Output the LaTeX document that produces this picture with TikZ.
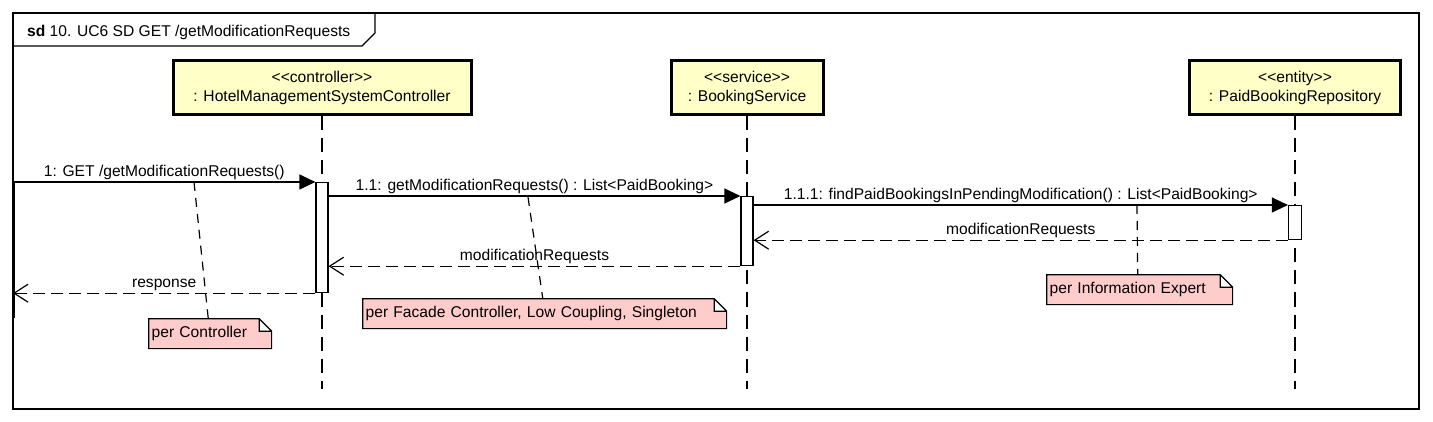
\documentclass[tikz,border=0pt]{standalone}
\usepackage{fontspec}
\setmainfont{Liberation Sans}
\usetikzlibrary{arrows.meta}

\definecolor{headfill}{RGB}{255,255,200}
\definecolor{notefill}{RGB}{255,204,204}
\newcommand{\umlfont}{\fontsize{15.6}{19}\selectfont}

\tikzset{
  lifehead/.style={draw, line width=3pt, fill=headfill, minimum height=54pt, align=center, font=\umlfont, inner sep=0pt},
  lifeline/.style={line width=1.2pt, dash pattern=on 14pt off 8pt},
  activation/.style={draw, fill=white, line width=1.2pt, minimum width=12pt, inner sep=0pt, anchor=north},
  call/.style={line width=1.2pt, -{Triangle[length=16pt,width=15pt]}},
  reply/.style={line width=1.2pt, dash pattern=on 12pt off 6pt, -{Straight Barb[length=14pt,width=18pt]}},
  notelink/.style={line width=1.2pt, dash pattern=on 9pt off 7pt},
  msg/.style={font=\umlfont, above, inner sep=1.5pt},
  note/.style={anchor=north west, font=\umlfont, align=left, inner xsep=3.5pt, minimum height=31pt,
    path picture={
      \draw[fill=notefill, line width=1.2pt]
        ([shift={(.6pt,-.6pt)}]path picture bounding box.north west)
        -- ([shift={(-13pt,-.6pt)}]path picture bounding box.north east)
        -- ([shift={(-.6pt,-13pt)}]path picture bounding box.north east)
        -- ([shift={(-.6pt,.6pt)}]path picture bounding box.south east)
        -- ([shift={(.6pt,.6pt)}]path picture bounding box.south west) -- cycle
        ([shift={(-13pt,-.6pt)}]path picture bounding box.north east)
        |- ([shift={(-.6pt,-13pt)}]path picture bounding box.north east);
    }},
}

\begin{document}
\begin{tikzpicture}[x=1pt,y=-1pt]
\useasboundingbox (0,0) rectangle (1433,422);

% frame
\draw[line width=1.2pt] (13,13) rectangle (1419,409);
\draw[line width=1.2pt] (13,46) -- (362,46) -- (375,33) -- (375,13);
\node[anchor=west, font=\umlfont, inner sep=0pt] (title) at (27,32) {\textbf{sd} 10. UC6 SD GET /getModificationRequests};

% lifelines
\node[lifehead, minimum width=298pt] (HMSController) at (322,88) {<{}<controller>{}>\\: HotelManagementSystemController};
\node[lifehead, minimum width=152pt] (BookingService) at (747,88) {<{}<service>{}>\\: BookingService};
\node[lifehead, minimum width=211pt] (PaidBookingRepo) at (1295,88) {<{}<entity>{}>\\: PaidBookingRepository};

\coordinate (ctrlEnd) at (322,389);
\coordinate (svcEnd) at (747,389);
\coordinate (repoEnd) at (1295,389);
\draw[lifeline] (HMSController.south) -- (ctrlEnd);
\draw[lifeline] (BookingService.south) -- (svcEnd);
\draw[lifeline] (PaidBookingRepo.south) -- (repoEnd);

\node[activation, minimum height=110pt] (ctrlAct) at (322,182) {};
\node[activation, minimum height=69pt] (svcAct) at (747,196) {};
\node[activation, minimum height=34pt, minimum width=13pt] (repoAct) at (1295,205) {};

% found message
\coordinate (gateTop) at (13,182);
\coordinate (gateBot) at (13,318);
\draw[line width=3pt] (gateTop) -- (gateBot);

% messages
\draw[call] (gateTop) -- (ctrlAct.north west) node[msg, midway] {1: GET /getModificationRequests()};
\draw[call] (ctrlAct.east |- svcAct.north) -- (svcAct.north west) node[msg, midway] {1.1: getModificationRequests() : List<PaidBooking>};
\draw[call] (svcAct.east |- repoAct.north) -- (repoAct.north west) node[msg, midway] {1.1.1: findPaidBookingsInPendingModification() : List<PaidBooking>};
\draw[reply] (repoAct.south west) -- (svcAct.east |- repoAct.south) node[msg, midway] {modificationRequests};
\draw[reply] (svcAct.south west) -- (ctrlAct.east |- svcAct.south) node[msg, midway] {modificationRequests};
\draw[reply] (ctrlAct.south west) -- (gateTop |- ctrlAct.south) node[msg, midway] {response};

% notes
\node[note, text width=117pt] (noteController) at (148,318) {per Controller};
\node[note, text width=358pt] (noteFacade) at (362,298) {per Facade Controller, Low Coupling, Singleton};
\node[note, text width=180pt] (noteExpert) at (1046,274) {per Information Expert};

\coordinate (linkA) at (194,182);
\coordinate (linkB) at (528,197);
\coordinate (linkC) at (1137,205);
\draw[notelink] (linkA) -- ([xshift=-2pt]noteController.north);
\draw[notelink] (linkB) -- ([xshift=-2pt]noteFacade.north);
\draw[notelink] (linkC) -- ([xshift=-2pt]noteExpert.north);
\end{tikzpicture}
\end{document}
